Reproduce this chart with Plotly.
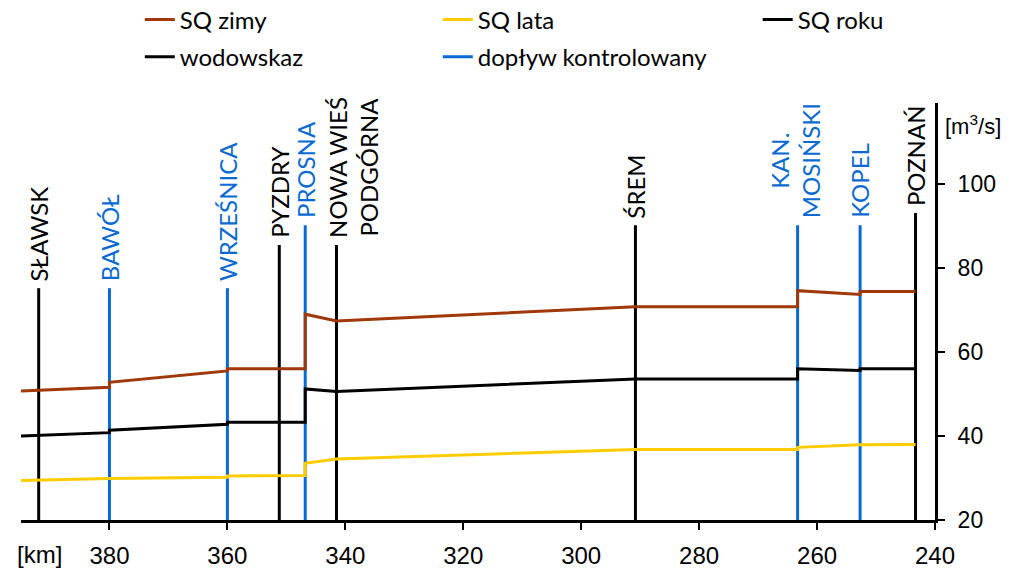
import plotly.graph_objects as go

# ---- data ----
station_names = ["SŁAWSK", "BAWÓŁ", "WRZEŚNICA", "PYZDRY", "PROSNA",
                 "NOWA WIEŚ<br>PODGÓRNA", "ŚREM", "KAN.<br>MOSIŃSKI", "KOPEL", "POZNAŃ"]
station_km = [392.0, 380.0, 360.0, 351.2, 346.8, 341.5, 290.8, 263.3, 252.7, 243.3]
station_kind = ["w", "d", "d", "w", "d", "w", "w", "d", "d", "w"]
station_top = [75.2, 75.2, 75.2, 85.5, 90.2, 85.5, 90.2, 90.2, 90.2, 93.1]

zimy_km = [395.0, 380.0, 380.0, 360.0, 360.0, 346.8, 346.8, 341.5, 290.8, 263.3, 263.3, 252.7, 252.7, 243.3]
zimy_q = [50.7, 51.6, 52.8, 55.5, 56.0, 56.0, 69.0, 67.4, 70.8, 70.8, 74.6, 73.7, 74.4, 74.4]

roku_km = [395.0, 380.0, 380.0, 360.0, 360.0, 346.8, 346.8, 341.5, 290.8, 263.3, 263.3, 252.7, 252.7, 243.3]
roku_q = [40.0, 40.8, 41.4, 42.8, 43.3, 43.3, 51.2, 50.6, 53.6, 53.6, 56.0, 55.6, 56.0, 56.0]

lata_km = [395.0, 380.0, 360.0, 360.0, 346.8, 346.8, 341.5, 290.8, 263.3, 263.3, 252.7, 243.3]
lata_q = [29.4, 29.9, 30.2, 30.5, 30.6, 33.5, 34.5, 36.8, 36.8, 37.3, 37.9, 38.0]

x_ticks = [380, 360, 340, 320, 300, 280, 260, 240]
y_ticks = [20, 40, 60, 80, 100]
x_range = [395, 240]
y_range = [20, 119.3]

C_ZIMY = "#A0380A"
C_LATA = "#FFCC00"
C_BLUE = "#0A6AD2"
C_BLACK = "#000000"
LABEL_FONT = "Lato"
TICK_FONT = "Liberation Sans"

fig = go.Figure()

# station vertical lines
for kind, name, color in [("w", "wodowskaz", C_BLACK), ("d", "dopływ kontrolowany", C_BLUE)]:
    xs, ys = [], []
    for k, t, s in zip(station_km, station_top, station_kind):
        if s == kind:
            xs += [k, k, None]
            ys += [y_range[0], t, None]
    fig.add_trace(go.Scatter(x=xs, y=ys, mode="lines", name=name,
                             line=dict(color=color, width=3), legend="legend2",
                             hoverinfo="skip"))

fig.add_trace(go.Scatter(x=zimy_km, y=zimy_q, mode="lines", name="SQ zimy",
                         line=dict(color=C_ZIMY, width=3), legend="legend"))
fig.add_trace(go.Scatter(x=lata_km, y=lata_q, mode="lines", name="SQ lata",
                         line=dict(color=C_LATA, width=3), legend="legend"))
fig.add_trace(go.Scatter(x=roku_km, y=roku_q, mode="lines", name="SQ roku",
                         line=dict(color=C_BLACK, width=3), legend="legend3"))

# station labels
for name, k, t, s in zip(station_names, station_km, station_top, station_kind):
    xshift = 0
    if name.startswith("NOWA"):
        xshift = 17
    elif name.startswith("KAN"):
        xshift = -3
    fig.add_annotation(x=k, y=t, xref="x", yref="y", text=name, textangle=-90,
                       showarrow=False, xanchor="center", yanchor="bottom",
                       yshift=5, xshift=xshift,
                       font=dict(family=LABEL_FONT, size=24,
                                 color=C_BLUE if s == "d" else C_BLACK))

fig.add_annotation(x=x_range[1], y=114, xref="x", yref="y", text="[m<sup>3</sup>/s]",
                   showarrow=False, xanchor="left", yanchor="middle", xshift=8,
                   font=dict(family=TICK_FONT, size=22, color="black"))
fig.add_annotation(x=0, y=0, xref="paper", yref="paper", text="[km]",
                   showarrow=False, xanchor="center", yanchor="middle", xshift=18, yshift=-34,
                   font=dict(family=TICK_FONT, size=24, color="black"))

axis_common = dict(showgrid=False, zeroline=False, automargin=False)
leg_common = dict(orientation="h", xanchor="left", yanchor="middle",
                  entrywidth=253, entrywidthmode="pixels", bgcolor="rgba(0,0,0,0)",
                  font=dict(family=LABEL_FONT, size=24, color="black"))
fig.update_layout(
    width=1011, height=568,
    margin=dict(l=21, r=76, t=103, b=48, autoexpand=False),
    plot_bgcolor="white", paper_bgcolor="white",
    xaxis=dict(range=x_range, tickvals=x_ticks, ticks="outside", ticklen=7, tickwidth=2,
               tickcolor="black", showline=True, linewidth=3, linecolor="black",
               tickfont=dict(family=TICK_FONT, size=24, color="black"),
               ticklabelstandoff=5, **axis_common),
    yaxis=dict(range=y_range, tickvals=y_ticks, side="right", ticks="outside", ticklen=7,
               tickwidth=2, tickcolor="black", showline=True, linewidth=3, linecolor="black",
               tickfont=dict(family=TICK_FONT, size=23, color="black"),
               ticklabelstandoff=8, **axis_common),
    xaxis2=dict(range=x_range, tickvals=x_ticks, ticks="inside", ticklen=7, tickwidth=2,
                tickcolor="black", showticklabels=False, showline=False,
                overlaying="x", anchor="y", **axis_common),
    yaxis2=dict(range=y_range, tickvals=y_ticks, ticks="inside", ticklen=7, tickwidth=2,
                tickcolor="black", showticklabels=False, showline=False, side="right",
                overlaying="y", anchor="x", **axis_common),
    legend=dict(x=0.13, y=1.199, **leg_common),
    legend2=dict(x=0.13, y=1.110, **leg_common),
    legend3=dict(x=0.806, y=1.199, **leg_common),
    showlegend=True,
)

fig.write_html("out.html", post_script="document.body.style.margin='0';",
               config={"displayModeBar": False})
